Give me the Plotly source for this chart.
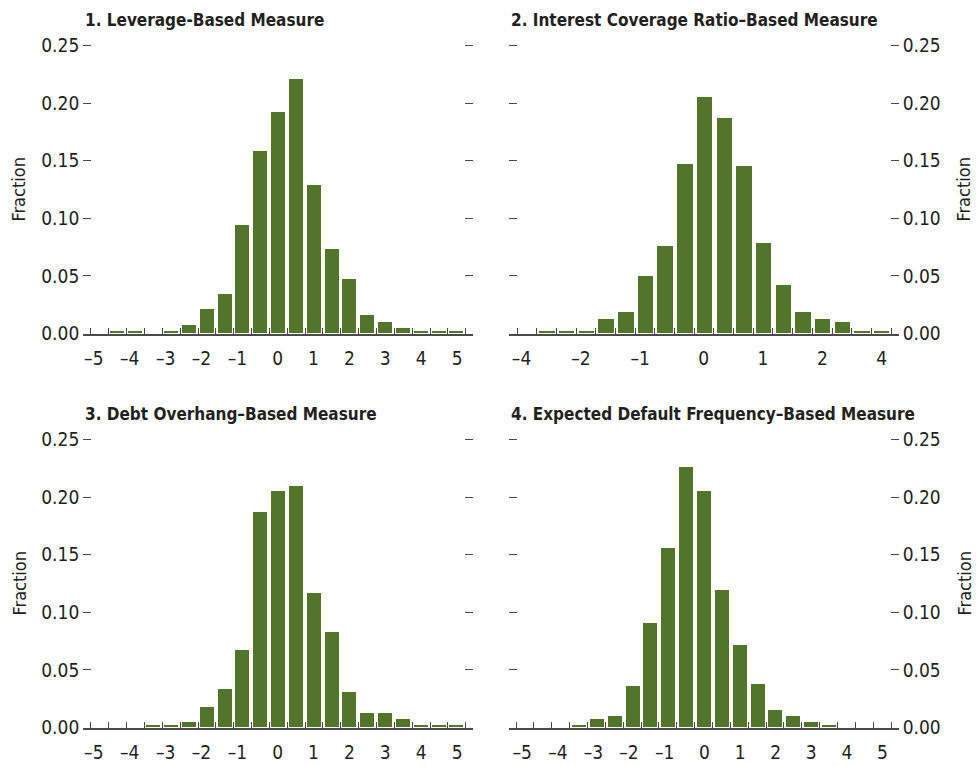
import plotly.graph_objects as go

# ---- data ----
titles = [
    "1. Leverage-Based Measure",
    "2. Interest Coverage Ratio\u2013Based Measure",
    "3. Debt Overhang\u2013Based Measure",
    "4. Expected Default Frequency\u2013Based Measure",
]

# histogram bins: first bin edge and bin width for each panel (plotted x units)
bin_start = [-5.198, -3.148, -5.198, -5.295]
bin_width = [0.4970, 0.3320, 0.4970, 0.5016]

leverage = [0.0, 0.002, 0.002, 0.0, 0.002, 0.007, 0.021, 0.034, 0.094, 0.158, 0.192,
            0.221, 0.129, 0.073, 0.047, 0.016, 0.010, 0.005, 0.002, 0.002, 0.002]
icr = [0.0, 0.002, 0.002, 0.002, 0.0125, 0.0185, 0.050, 0.076, 0.147, 0.205, 0.187,
       0.145, 0.078, 0.042, 0.0185, 0.0125, 0.010, 0.002, 0.002]
debt_overhang = [0.0, 0.0, 0.0, 0.002, 0.002, 0.0046, 0.0177, 0.033, 0.067, 0.187, 0.205,
                 0.210, 0.117, 0.083, 0.031, 0.0125, 0.0125, 0.0072, 0.002, 0.002, 0.002]
edf = [0.0, 0.0, 0.0, 0.002, 0.0075, 0.010, 0.036, 0.091, 0.156, 0.226, 0.205,
       0.119, 0.072, 0.038, 0.015, 0.010, 0.0046, 0.002, 0.0, 0.0, 0.0]
series = [leverage, icr, debt_overhang, edf]

# x tick positions (plotted units) and their labels
x_tick_pos = [[-5, -4, -3, -2, -1, 0, 1, 2, 3, 4, 5],
              [-3, -2, -1, 0, 1, 2, 3],
              [-5, -4, -3, -2, -1, 0, 1, 2, 3, 4, 5],
              [-5, -4, -3, -2, -1, 0, 1, 2, 3, 4, 5]]
x_tick_lab = [[-5, -4, -3, -2, -1, 0, 1, 2, 3, 4, 5],
              [-4, -2, -1, 0, 1, 2, 4],
              [-5, -4, -3, -2, -1, 0, 1, 2, 3, 4, 5],
              [-5, -4, -3, -2, -1, 0, 1, 2, 3, 4, 5]]
y_ticks = [0.0, 0.05, 0.10, 0.15, 0.20, 0.25]
y_title = "Fraction"

# ---- layout geometry ----
W, H = 977, 766
dom_x = [(83.3, 473.3), (508.5, 898.7), (83.3, 473.3), (508.5, 898.7)]
zero_px = [333.5, 333.5, 727.5, 727.5]
top_px = [45.7, 45.7, 439.5, 439.5]
x_ranges = [(-5.412, 5.451), (-3.292, 3.288), (-5.412, 5.451), (-5.506, 5.455)]
title_y_px = [20, 20, 414, 414]
YMAX = 0.253

GREEN = "#50752b"
TXT = "#231f20"
AX = "#4a4a4a"
FONT = "DejaVu Sans Condensed, Liberation Sans Narrow, Arial Narrow, sans-serif"


def fmt_x(v):
    # negative labels: en dash, digit kept centred on the tick
    return ("\u2013" + str(-v) + "\u2002") if v < 0 else str(v)


fig = go.Figure()
layout = dict(
    width=W, height=H,
    margin=dict(l=0, r=0, t=0, b=0, pad=0, autoexpand=False),
    paper_bgcolor="white", plot_bgcolor="white",
    showlegend=False,
    font=dict(family=FONT, color=TXT, size=19),
    bargap=0,
)
annotations = []

for i in range(4):
    n = len(series[i])
    edges = [bin_start[i] + k * bin_width[i] for k in range(n + 1)]
    centers = [bin_start[i] + (k + 0.5) * bin_width[i] for k in range(n)]
    xa = "x" if i == 0 else f"x{i+1}"
    ya = "y" if i == 0 else f"y{i+1}"
    fig.add_trace(go.Bar(
        x=centers, y=series[i], width=bin_width[i] * 0.785,
        marker=dict(color=GREEN, line=dict(width=0)),
        xaxis=xa, yaxis=ya, hoverinfo="y",
    ))
    xk = "xaxis" if i == 0 else f"xaxis{i+1}"
    yk = "yaxis" if i == 0 else f"yaxis{i+1}"
    x0, x1 = dom_x[i]
    layout[xk] = dict(
        domain=[x0 / W, x1 / W], anchor=ya,
        range=list(x_ranges[i]), automargin=False,
        tickmode="array", tickvals=x_tick_pos[i],
        ticktext=[fmt_x(v) for v in x_tick_lab[i]],
        ticks="", showgrid=False, zeroline=False,
        showline=True, linecolor=AX, linewidth=1.5,
        ticklabelstandoff=7,
        tickfont=dict(size=19, color=TXT),
        minor=dict(tickmode="array", tickvals=edges, ticks="inside",
                   ticklen=6, tickcolor=AX, tickwidth=1, showgrid=False),
        fixedrange=True,
    )
    side = "left" if i in (0, 2) else "right"
    y_top_dom = 1 - (zero_px[i] - (zero_px[i] - top_px[i]) * YMAX / 0.25) / H
    layout[yk] = dict(
        domain=[1 - zero_px[i] / H, y_top_dom], anchor=xa,
        range=[0, YMAX], side=side, automargin=False,
        tickmode="array", tickvals=y_ticks,
        ticktext=[f"{v:.2f}" for v in y_ticks],
        ticks="inside", ticklen=8, tickwidth=1, tickcolor=AX,
        mirror="ticks", showline=False, showgrid=False, zeroline=False,
        ticklabelstandoff=3,
        tickfont=dict(size=19, color=TXT),
        fixedrange=True,
    )
    annotations.append(dict(
        text=f"<b>{titles[i]}</b>", xref="paper", yref="paper",
        x=x0 / W, y=1 - title_y_px[i] / H, xanchor="left", yanchor="middle",
        showarrow=False, font=dict(size=17, color=TXT, family=FONT),
    ))
    fx = 19 if side == "left" else 964
    annotations.append(dict(
        text=y_title, xref="paper", yref="paper",
        x=fx / W, y=1 - ((zero_px[i] + top_px[i]) / 2) / H,
        xanchor="center", yanchor="middle", textangle=-90,
        showarrow=False, font=dict(size=18, color=TXT, family=FONT),
    ))

layout["annotations"] = annotations
fig.update_layout(**layout)
fig.write_html(
    "out.html",
    config={"displayModeBar": False},
    post_script="document.body.style.margin='0px';document.body.style.padding='0px';"
                "document.documentElement.style.overflow='hidden';",
)
